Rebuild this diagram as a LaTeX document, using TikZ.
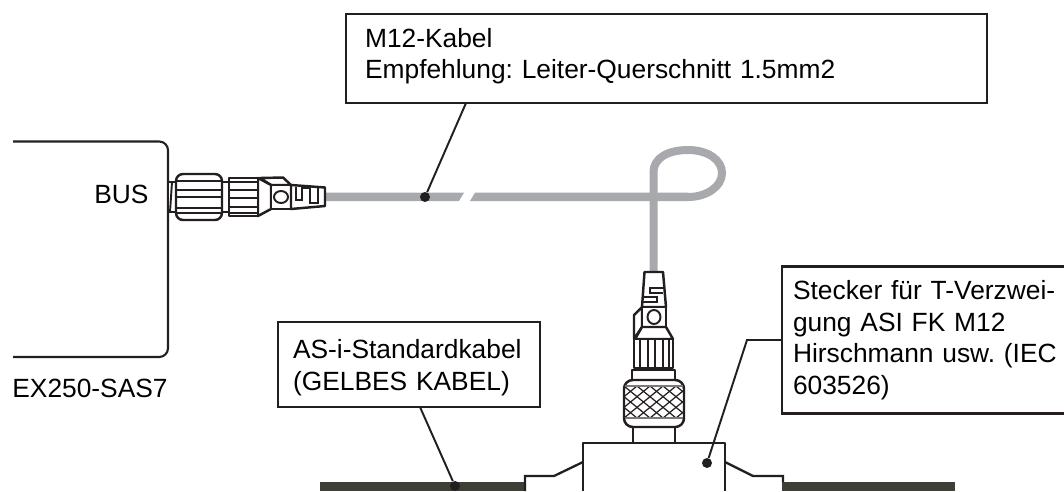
\documentclass[tikz,border=0pt]{standalone}
\usepackage{fontspec}
\setmainfont{Liberation Sans}
\usetikzlibrary{positioning}
\definecolor{cablegray}{RGB}{167,169,172}
\definecolor{asidark}{RGB}{62,64,56}
\definecolor{inkblack}{RGB}{35,31,32}
\tikzset{
  lbl/.style={font=\fontsize{15}{18}\selectfont, text=black, inner sep=0pt},
  callbox/.style={draw=inkblack, line width=1.5pt, fill=white, align=left, inner ysep=0pt,
                  font=\fontsize{15}{18}\selectfont\frenchspacing, text=black},
  lead/.style={draw=inkblack, line width=1.1pt},
  leaddot/.style={circle, fill=inkblack, inner sep=0pt, minimum size=0.2cm},
  part/.style={draw=inkblack, line width=1.4pt, fill=white, line join=round},
  rib/.style={draw=inkblack, line width=1.1pt},
  cable/.style={line width=0.16cm, cablegray},
  asicable/.style={fill=asidark},
}
\begin{document}
\begin{tikzpicture}[x=0.02cm, y=-0.02cm]
    \useasboundingbox (0,0) rectangle (1064,491);
    \draw[line width=1.2pt, inkblack, rounded corners=5pt] (13,141.5) -- (168,141.5) -- (168,357) -- (13,357);
    \node[lbl, anchor=base west] (bustxt) at (94,203) {BUS};
    \node[lbl, anchor=base west] (modeltxt) at (12,397) {EX250-SAS7};

    \fill[asicable] (320,482) rectangle (524,491);
    \fill[asicable] (782,482) rectangle (955,491);

    \fill[cablegray] (322,192.7) -- (464,192.7) -- (459,201) -- (322,201) -- cycle;
    \fill[cablegray] (475,192.7) -- (688,192.7) -- (688,201) -- (470,201) -- cycle;
    \draw[cable] (653.5,272) -- (653.5,172) .. controls (653.5,158) and (668,150) .. (688,150)
      .. controls (708,150) and (722,160) .. (722,173) .. controls (722,187) and (706,197) .. (688,197);

    \draw[part] (168,182) rectangle (176,212);
    \draw[rib] (172,182) -- (170,212);
    \draw[part] (222,182) rectangle (229,212);
    \draw[part, rounded corners=4pt] (176,174) rectangle (222,220);
    \foreach \ry in {181,190,197,208,213}
      \draw[rib] (176,\ry) -- (222,\ry);
    \draw[part] (260,178) -- (283,177.5) -- (291,185) -- (271,185) -- cycle;
    \draw[part] (258,178) -- (271,185) -- (271,209) -- (258,216) -- cycle;
    \draw[part] (229,178) rectangle (258,216);
    \foreach \ry in {182,190,198,207,213}
      \draw[rib] (229,\ry) -- (258,\ry);
    \draw[part] (271,185) rectangle (291,209);
    \draw[rib] (281,197) ellipse [x radius=7, y radius=6];
    \draw[part] (291,185) -- (325,187.5) -- (325,206) -- (291,209) -- cycle;
    \draw[rib] (296,186.5) -- (296,200) -- (302,200) -- (302,188) -- (310,188) -- (310,203) -- (318,203) -- (318,188);

    \draw[part] (644.5,272) -- (663,272) -- (666,307) -- (642,307) -- cycle;
    \draw[rib] (663,288) -- (650,288) -- (650,293) -- (663,293);
    \draw[rib] (643,297) -- (657,297) -- (657,302) -- (643,302);
    \draw[part] (642,307) -- (634,315) -- (634,339) -- (642,327) -- cycle;
    \draw[part] (642,307) rectangle (666,327);
    \draw[rib] (654,317) ellipse [x radius=6.5, y radius=7];
    \draw[part] (642,327) -- (666,327) -- (673,339) -- (635,339) -- cycle;
    \draw[part] (634,339) rectangle (673,368);
    \foreach \rx in {640,648,655,663,669}
      \draw[rib] (\rx,339) -- (\rx,368);
    \draw[part] (632,370) rectangle (675,380);

    \draw[part] (633,427) rectangle (675,443);
    \draw[part, rounded corners=5pt] (624,380) rectangle (684,427);
    \begin{scope}
      \clip (625,386) rectangle (683,418);
      \foreach \kx in {-2,...,8} {
        \draw[line width=0.7pt, inkblack] (585+\kx*13,386) -- (624+\kx*13,418);
        \draw[line width=0.7pt, inkblack] (624+\kx*13,386) -- (585+\kx*13,418);
      }
    \end{scope}
    \draw[line width=0.8pt, inkblack!60] (625,386) -- (683,386);
    \draw[line width=1.2pt, inkblack!60] (625,418) -- (683,418);

    \draw[part] (583,491) -- (583,443) -- (725,443) -- (725,491);
    \draw[line width=1.3pt, inkblack] (583,462) -- (554,476) -- (525,476) -- (525,491);
    \draw[line width=1.3pt, inkblack] (725,462) -- (753,476) -- (783,476) -- (783,482);

    \node[callbox, minimum width=12.82cm, minimum height=1.78cm, text width=12.06cm, inner xsep=0.38cm] (m12box) at (666.5,58.5)
      {M12-Kabel\\[-0.5pt]Empfehlung: Leiter-Querschnitt 1.5mm2\rule[-6pt]{0pt}{0pt}};
    \node[callbox, minimum width=5.24cm, minimum height=1.7cm, text width=4.64cm, inner xsep=0.3cm] (asibox) at (409,364.5)
      {\rule{0pt}{14.4pt}AS-i-Standardkabel\\(GELBES KABEL)};
    \node[callbox, minimum width=5.7cm, minimum height=2.93cm, text width=5.26cm, inner xsep=0.22cm] (tbox) at (924.5,340)
      {\mbox{Stecker für T-Verzwei-}\\gung ASI FK M12\\\mbox{Hirschmann usw. (IEC}\\603526)};

    \node[leaddot] (m12dot) at (425,197) {};
    \node[leaddot] (asidot) at (455,486) {};
    \node[leaddot] (tdot) at (707,463) {};
    \coordinate (m12foot) at (466,103);
    \coordinate (asifoot) at (420,407);
    \coordinate (tfoot) at (782,340);
    \coordinate (tbend) at (747,340);
    \draw[lead] (m12foot) -- (m12dot);
    \draw[lead] (asifoot) -- (asidot);
    \draw[lead] (tfoot) -- (tbend) -- (tdot);
\end{tikzpicture}
\end{document}
